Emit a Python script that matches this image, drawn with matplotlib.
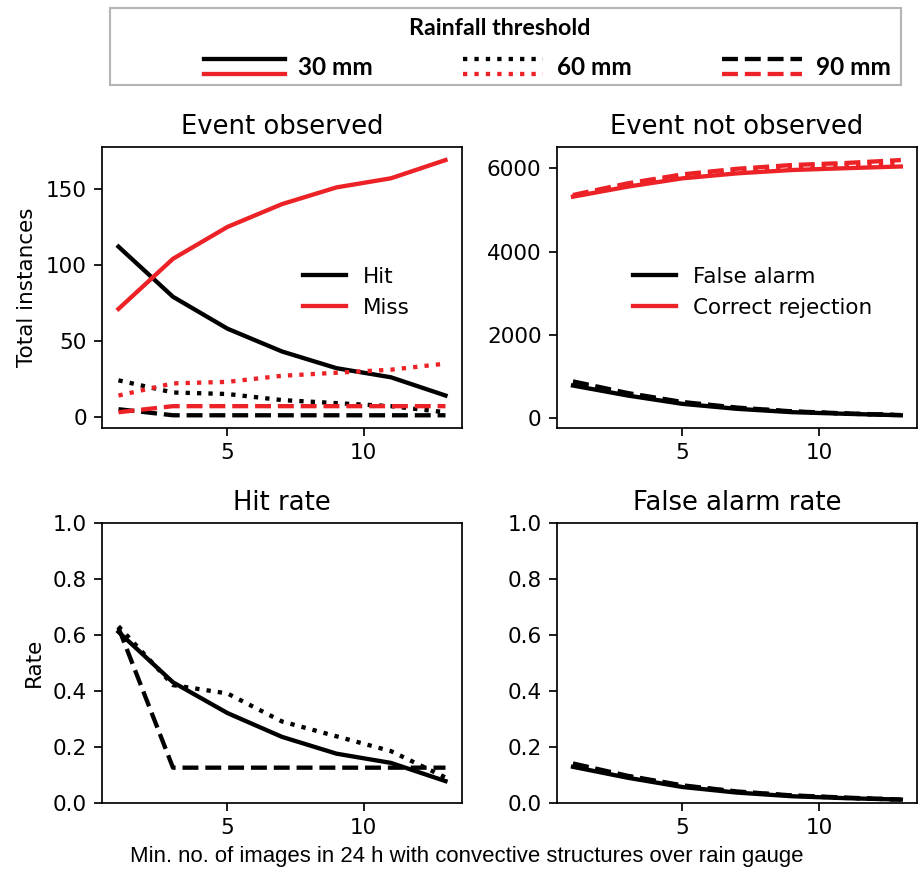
import numpy as np
import matplotlib
matplotlib.use('Agg')
import matplotlib.pyplot as plt
from matplotlib.lines import Line2D
from matplotlib.patches import Rectangle
from matplotlib.legend_handler import HandlerBase

RED = '#ec2227'

# x: min. number of images with convective structures
n_images = [1, 3, 5, 7, 9, 11, 13]

# event observed (counts)
hit_30 = [112, 79, 58, 43, 32, 26, 14]
miss_30 = [71, 104, 125, 140, 151, 157, 169]
hit_60 = [24, 16, 15, 11, 9, 7, 3]
miss_60 = [14, 22, 23, 27, 29, 31, 35]
hit_90 = [5, 1, 1, 1, 1, 1, 1]
miss_90 = [3, 7, 7, 7, 7, 7, 7]

# event not observed (counts)
fa_30 = [780, 540, 340, 220, 140, 100, 65]
cr_30 = [5320, 5560, 5760, 5880, 5960, 6005, 6045]
fa_60 = [850, 580, 370, 240, 155, 105, 68]
cr_60 = [5340, 5610, 5820, 5950, 6035, 6085, 6140]
fa_90 = [880, 600, 385, 250, 160, 110, 70]
cr_90 = [5360, 5640, 5855, 5990, 6080, 6130, 6200]

# rates
hit_rate_30 = [0.61, 0.43, 0.32, 0.235, 0.175, 0.142, 0.077]
hit_rate_60 = [0.63, 0.42, 0.39, 0.29, 0.237, 0.184, 0.09]
hit_rate_90 = [0.625, 0.125, 0.125, 0.125, 0.125, 0.125, 0.125]
fa_rate_30 = [0.128, 0.089, 0.056, 0.036, 0.023, 0.016, 0.011]
fa_rate_60 = [0.136, 0.094, 0.060, 0.039, 0.025, 0.017, 0.011]
fa_rate_90 = [0.140, 0.096, 0.062, 0.040, 0.026, 0.018, 0.011]

thresholds = ['30 mm', '60 mm', '90 mm']
styles = ['-', ':', '--']


class PairHandler(HandlerBase):
    # black line on top, red line below, same style
    def create_artists(self, legend, orig_handle, xdescent, ydescent,
                       width, height, fontsize, trans):
        ls = orig_handle.get_linestyle()
        xs = [-xdescent, width - xdescent]
        top = Line2D(xs, [height - ydescent] * 2, color='black', lw=2,
                     linestyle=ls, transform=trans)
        bot = Line2D(xs, [-ydescent] * 2, color=RED, lw=2,
                     linestyle=ls, transform=trans)
        return [top, bot]


fig = plt.figure(figsize=(920 / 155, 870 / 155), dpi=155)

ax1 = fig.add_axes([0.111, 0.508, 0.391, 0.3227])
ax2 = fig.add_axes([0.605, 0.508, 0.392, 0.3227])
ax3 = fig.add_axes([0.111, 0.0774, 0.391, 0.3218])
ax4 = fig.add_axes([0.605, 0.0774, 0.392, 0.3218])

# Event observed
ax1.plot(n_images, hit_30, color='black', ls='-', lw=2, label='Hit')
ax1.plot(n_images, miss_30, color=RED, ls='-', lw=2, label='Miss')
ax1.plot(n_images, hit_60, color='black', ls=':', lw=2)
ax1.plot(n_images, miss_60, color=RED, ls=':', lw=2)
ax1.plot(n_images, hit_90, color='black', ls='--', lw=2)
ax1.plot(n_images, miss_90, color=RED, ls='--', lw=2)
ax1.set_title('Event observed')
ax1.set_ylabel('Total instances')
ax1.legend(loc='center', bbox_to_anchor=(0.706, 0.484), frameon=False)

# Event not observed
ax2.plot(n_images, fa_30, color='black', ls='-', lw=2, label='False alarm')
ax2.plot(n_images, cr_30, color=RED, ls='-', lw=2, label='Correct rejection')
ax2.plot(n_images, fa_60, color='black', ls=':', lw=2)
ax2.plot(n_images, cr_60, color=RED, ls=':', lw=2)
ax2.plot(n_images, fa_90, color='black', ls='--', lw=2)
ax2.plot(n_images, cr_90, color=RED, ls='--', lw=2)
ax2.set_title('Event not observed')
ax2.legend(loc='center', bbox_to_anchor=(0.543, 0.484), frameon=False)

# Hit rate
ax3.plot(n_images, hit_rate_30, color='black', ls='-', lw=2)
ax3.plot(n_images, hit_rate_60, color='black', ls=':', lw=2)
ax3.plot(n_images, hit_rate_90, color='black', ls='--', lw=2)
ax3.set_title('Hit rate')
ax3.set_ylabel('Rate')
ax3.set_ylim(0, 1)

# False alarm rate
ax4.plot(n_images, fa_rate_30, color='black', ls='-', lw=2)
ax4.plot(n_images, fa_rate_60, color='black', ls=':', lw=2)
ax4.plot(n_images, fa_rate_90, color='black', ls='--', lw=2)
ax4.set_title('False alarm rate')
ax4.set_ylim(0, 1)

for ax in [ax1, ax2, ax3, ax4]:
    ax.set_xticks([5, 10])

fig.text(0.507, 0.015,
         'Min. no. of images in 24 h with convective structures over rain gauge',
         ha='center', va='center', fontsize=10.3,
         family=['Liberation Sans', 'DejaVu Sans'])

# threshold legend at top
fig.patches.append(Rectangle((0.1196, 0.9023), 0.8598, 0.0885,
                             transform=fig.transFigure, fill=False,
                             edgecolor='#b5b5b5', lw=1))
fig.text(0.5435, 0.9678, 'Rainfall threshold', ha='center', va='center',
         family=['Lato', 'DejaVu Sans'], weight='bold', fontsize=10.8)
handles = [Line2D([], [], ls=s) for s in styles]
fig.legend(handles, thresholds, handler_map={Line2D: PairHandler()},
           loc='center', bbox_to_anchor=(0.595, 0.9225), ncol=3, frameon=False,
           handlelength=3.3, handleheight=0.6, handletextpad=0.55,
           columnspacing=3.72,
           prop=dict(family=['Lato', 'DejaVu Sans'], weight='bold', size=11.3))

fig.savefig('out.png', dpi=155)
